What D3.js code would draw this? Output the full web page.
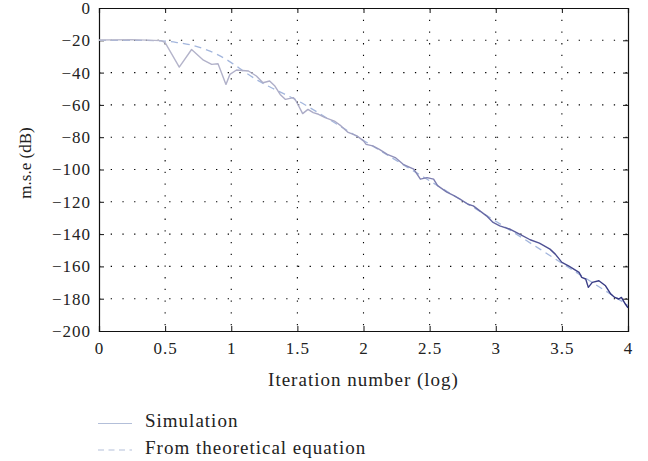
<!DOCTYPE html>
<html>
<head>
<meta charset="utf-8">
<script src="https://d3js.org/d3.v7.min.js"></script>
<style>
  body { margin: 0; background: #fff; }
  svg text { font-family: "Liberation Serif", "DejaVu Serif", serif; fill: #222; }
</style>
</head>
<body>
<div id="chart"></div>
<script>

// simulated m.s.e curve (x = log10 iteration, y = dB)
var simX = [0, 0.25, 0.47, 0.50, 0.607, 0.70, 0.79, 0.852, 0.90, 0.96, 0.99, 1.04, 1.13, 1.19, 1.24, 1.29, 1.33, 1.37, 1.41, 1.47, 1.49, 1.51,
  1.54, 1.58, 1.62, 1.66, 1.71, 1.78, 1.83, 1.88, 1.95, 2.0, 2.02, 2.07, 2.12, 2.18, 2.24, 2.30, 2.38, 2.43, 2.48, 2.53, 2.56,
  2.63, 2.68, 2.73, 2.79, 2.83, 2.88, 2.93, 2.98, 3.03, 3.11, 3.18, 3.26, 3.33, 3.41, 3.45, 3.50, 3.55, 3.59, 3.63, 3.65, 3.68,
  3.70, 3.73, 3.78, 3.83, 3.87, 3.90, 3.93, 3.95, 3.98, 4.0];
var simY = [-19.8, -19.6, -20.2, -21.5, -36.6, -25.7, -32.3, -34.9, -34.5, -47.3, -41.1, -38.4, -39, -42.1, -46.3, -45.2, -48.3, -53.5, -56.6, -55.5, -57.6, -60.7,
  -65.4, -62.8, -64.8, -65.8, -67.9, -70, -73, -76.8, -79.2, -82.3, -84.4, -85.4, -87.5, -90.6, -92.6, -96.8, -99.8, -106, -105, -106, -110,
  -114, -116, -118.4, -121.5, -122.5, -125.6, -128.7, -132.8, -134.9, -137, -140, -143.5, -145.6, -149.3, -152.4, -157.5, -159.6, -161.7, -163.7, -166.8, -167.8,
  -173, -169.9, -168.9, -172, -177.1, -179.2, -180.2, -179.2, -183.3, -185.6];

// theoretical equation curve
var theoX = [0, 0.25, 0.5, 0.6, 0.7, 0.8, 0.9, 1.0, 1.1, 1.2, 1.3, 1.4, 1.5, 1.6, 1.8, 2.0, 2.5, 3.0, 3.5, 4.0];
var theoY = [-20, -20, -20.5, -21.5, -23, -25.5, -29, -33.8, -39.5, -44.8, -49.2, -53.2, -57.3, -62, -72, -82, -107, -132, -158, -184];

var xTicks = [0, 0.5, 1, 1.5, 2, 2.5, 3, 3.5, 4];
var yTicks = [0, -20, -40, -60, -80, -100, -120, -140, -160, -180, -200];

var legendLabels = ["Simulation", "From theoretical equation"];

var margin = { left: 99, right: 20, top: 8, bottom: 130 };
var W = 648, H = 461;
var width = 628 - margin.left;
var height = 331 - margin.top;

var svg = d3.select("#chart").append("svg")
    .attr("width", W)
    .attr("height", H);

var g = svg.append("g")
    .attr("transform", "translate(" + margin.left + "," + margin.top + ")");

var x = d3.scaleLinear().domain([0, 4]).range([0, width]);
var y = d3.scaleLinear().domain([-200, 0]).range([height, 0]);

// dotted grid
g.selectAll(".vgrid")
    .data(xTicks.slice(1, -1)).enter()
    .append("line")
    .attr("x1", function(d){ return x(d) })
    .attr("x2", function(d){ return x(d) })
    .attr("y1", 0).attr("y2", height)
    .attr("stroke", "#000").attr("stroke-width", 1.1)
    .attr("stroke-dasharray", "1.3,10.4");

g.selectAll(".hgrid")
    .data(yTicks.slice(1, -1)).enter()
    .append("line")
    .attr("y1", function(d){ return y(d) })
    .attr("y2", function(d){ return y(d) })
    .attr("x1", 0).attr("x2", width)
    .attr("stroke", "#000").attr("stroke-width", 1.1)
    .attr("stroke-dasharray", "1.3,10.4");

// axes with inward ticks on all sides
var xAxis = d3.axisBottom(x).tickValues(xTicks).tickSize(-5).tickPadding(11)
    .tickFormat(function(d){ return String(d) });
var yAxis = d3.axisLeft(y).tickValues(yTicks).tickSize(-5).tickPadding(8)
    .tickFormat(function(d){ return d < 0 ? "\u2212" + (-d) : String(d) });

var axes = [
  g.append("g").attr("transform", "translate(0," + height + ")").call(xAxis),
  g.append("g").call(yAxis),
  g.append("g").call(d3.axisTop(x).tickValues(xTicks).tickSize(-5).tickFormat("")),
  g.append("g").attr("transform", "translate(" + width + ",0)")
    .call(d3.axisRight(y).tickValues(yTicks).tickSize(-5).tickFormat(""))
];
axes.forEach(function(a){ a.attr("font-family", null) });

g.selectAll(".domain").attr("stroke", "#111").attr("stroke-width", 1.2);
g.selectAll(".tick line").attr("stroke", "#111");
g.selectAll(".tick text")
    .style("font-size", "17px")
    .style("letter-spacing", "1px")
    .attr("fill", "#222");

// gradient for the simulation curve (light at start, dark navy at end)
var grad = svg.append("defs").append("linearGradient")
    .attr("id", "simGrad")
    .attr("gradientUnits", "userSpaceOnUse")
    .attr("x1", 0).attr("x2", width).attr("y1", 0).attr("y2", 0);
grad.append("stop").attr("offset", "0").attr("stop-color", "#b9b9cc");
grad.append("stop").attr("offset", "0.45").attr("stop-color", "#a9a9c6");
grad.append("stop").attr("offset", "0.7").attr("stop-color", "#6c6ea8");
grad.append("stop").attr("offset", "1").attr("stop-color", "#2c2f7c");

var simData = simX.map(function(d, i){ return [d, simY[i]] });
var theoData = theoX.map(function(d, i){ return [d, theoY[i]] });

var line = d3.line()
    .x(function(d){ return x(d[0]) })
    .y(function(d){ return y(d[1]) });

var smooth = d3.line()
    .x(function(d){ return x(d[0]) })
    .y(function(d){ return y(d[1]) })
    .curve(d3.curveMonotoneX);

g.append("path")
    .datum(theoData)
    .attr("d", smooth)
    .attr("fill", "none")
    .attr("stroke", "#a3b6dd")
    .attr("stroke-width", 1.3)
    .attr("stroke-dasharray", "7,5");

g.append("path")
    .datum(simData)
    .attr("d", line)
    .attr("fill", "none")
    .attr("stroke", "url(#simGrad)")
    .attr("stroke-width", 1.4)
    .attr("stroke-linejoin", "round");

// axis labels
svg.append("text")
    .attr("x", margin.left + width / 2)
    .attr("y", 386)
    .attr("text-anchor", "middle")
    .style("font-size", "19px")
    .style("letter-spacing", "1px")
    .text("Iteration number (log)");

svg.append("text")
    .attr("transform", "translate(31,163) rotate(-90)")
    .attr("text-anchor", "middle")
    .style("font-size", "17px")
    .text("m.s.e (dB)");

// legend
var legend = svg.selectAll(".legend")
    .data(legendLabels).enter()
    .append("g")
    .attr("transform", function(d, i){ return "translate(98," + (423.5 + i * 26.5) + ")" });

legend.append("line")
    .attr("x1", 0).attr("x2", 34)
    .attr("stroke", "#b3bfd9")
    .attr("stroke-width", 1.2)
    .attr("stroke-dasharray", function(d, i){ return i ? "6,4.5" : null });

legend.append("text")
    .attr("x", 47).attr("y", 3.5)
    .style("font-size", "19px")
    .style("letter-spacing", "1px")
    .text(function(d){ return d });

</script>
</body>
</html>
